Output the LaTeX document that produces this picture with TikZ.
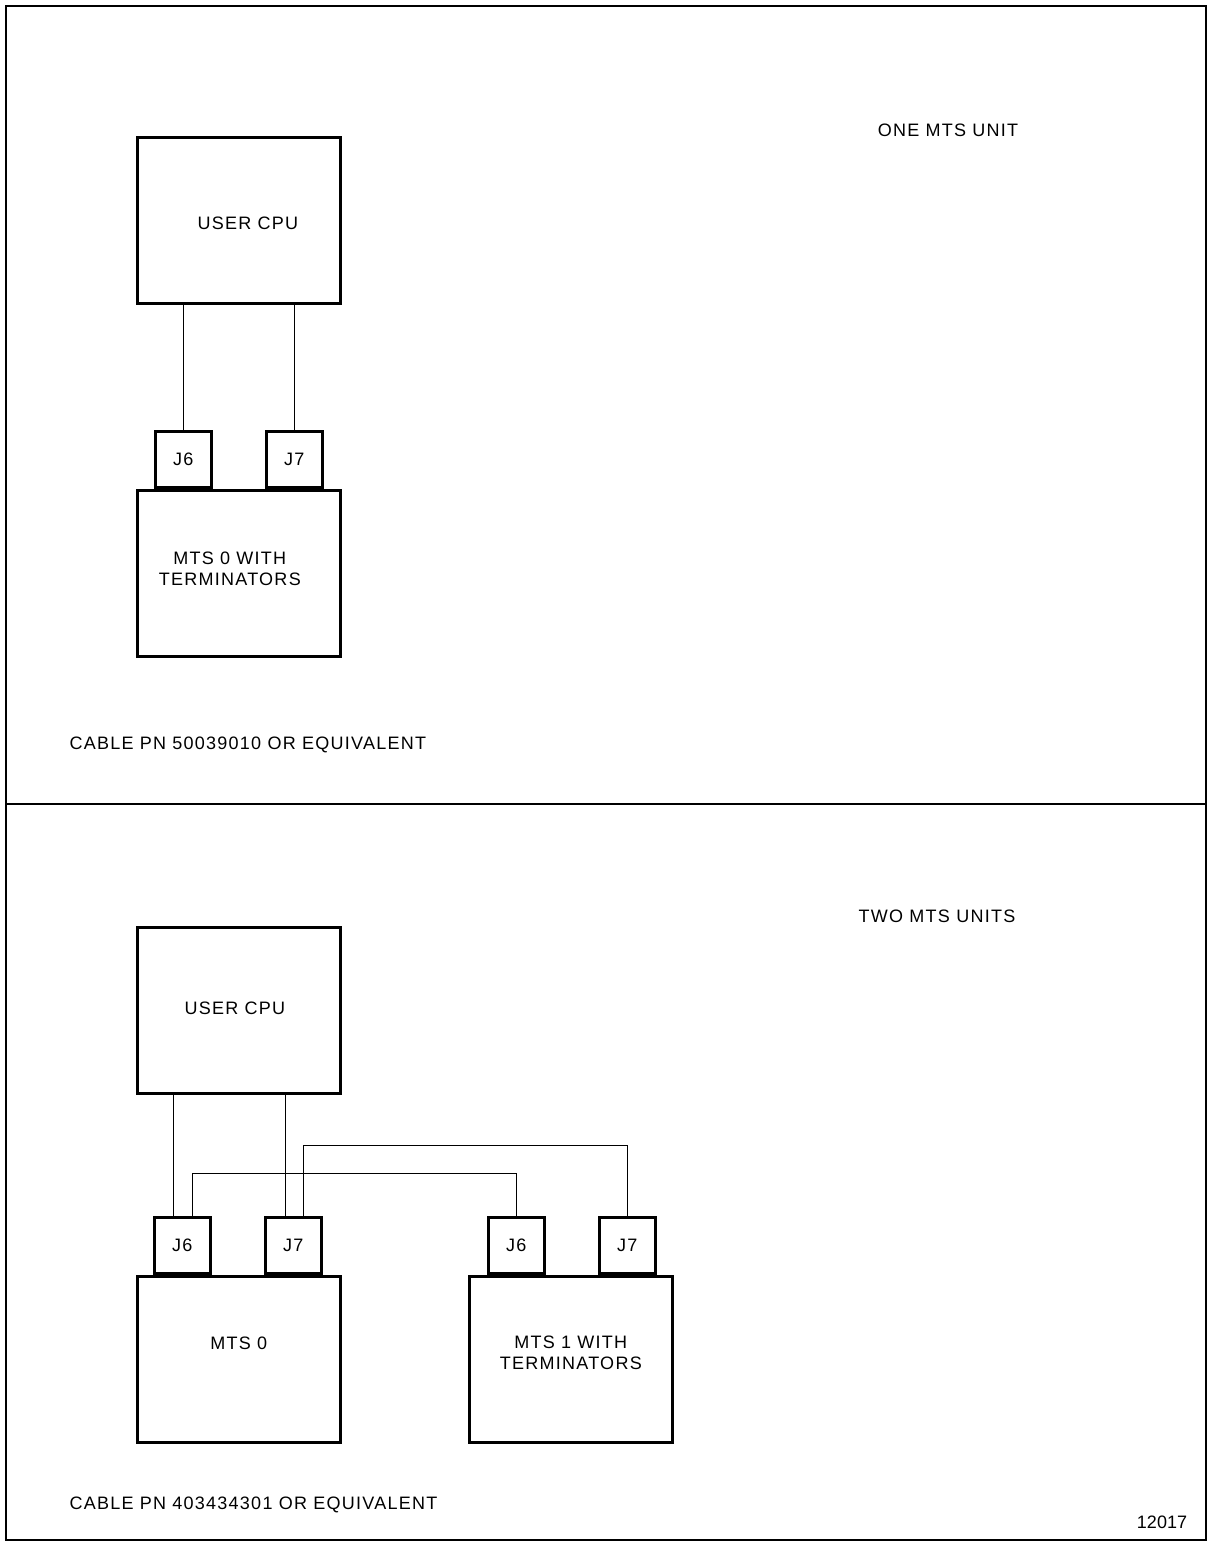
\documentclass[tikz,border=0pt]{standalone}
\usepackage{fontspec}
\setmainfont{Liberation Sans}[LetterSpace=7]
\usetikzlibrary{positioning, calc}
\tikzset{
  every picture/.style={font=\fontsize{18}{21}\selectfont, x=1pt, y=-1pt},
  unit/.style={draw, line width=2.6pt, minimum width=203pt, minimum height=166pt, inner sep=0pt},
  jack/.style={draw, line width=2.6pt, minimum width=56pt, minimum height=56pt, inner sep=0pt},
  lbl/.style={align=center, inner sep=0pt},
  cable/.style={line width=1.3pt},
  frame/.style={line width=2.8pt},
  title/.style={anchor=center},
  note/.style={anchor=west},
}
\begin{document}
\begin{tikzpicture}
  \useasboundingbox (0,0) rectangle (1209,1543);
  \draw[frame] (6,6) rectangle (1206,1540);
  \draw[frame] (6,804) -- (1206,804);

  % one unit
  \node[title] (tA) at (948,130) {ONE MTS UNIT};
  \node[unit, anchor=north west] (cpuA) at (136,136) {};
  \node[lbl] (cpuAtxt) at ($(cpuA.center)+(9,3)$) {USER CPU};
  \node[unit, anchor=north west] (mtsA) at (136,489) {};
  \node[lbl] (mtsAtxt) at ($(mtsA.center)+(-9,-5)$) {MTS 0 WITH\\TERMINATORS};
  \node[jack, anchor=south west] (j6A) at ($(mtsA.north west)+(18,0)$) {J6};
  \node[jack, anchor=south west] (j7A) at ($(mtsA.north west)+(129,0)$) {J7};
  \draw[cable] (j6A.north) -- (j6A.north |- cpuA.south);
  \draw[cable] (j7A.north) -- (j7A.north |- cpuA.south);
  \node[note] (cabA) at (66,745) {CABLE PN 50039010 OR EQUIVALENT};

  % two units
  \node[title] (tB) at (937,916) {TWO MTS UNITS};
  \node[unit, anchor=north west] (cpuB) at (136,926) {};
  \node[lbl] (cpuBtxt) at ($(cpuB.center)+(-4,-2)$) {USER CPU};
  \node[unit, anchor=north west] (mtsB) at (136,1275) {};
  \node[lbl] (mtsBtxt) at ($(mtsB.center)+(0,-16)$) {MTS 0};
  \node[unit, anchor=north west] (mtsC) at (468,1275) {};
  \node[lbl] (mtsCtxt) at ($(mtsC.center)+(0,-7)$) {MTS 1 WITH\\TERMINATORS};
  \node[jack, anchor=south west] (j6B) at ($(mtsB.north west)+(17,0)$) {J6};
  \node[jack, anchor=south west] (j7B) at ($(mtsB.north west)+(128,0)$) {J7};
  \node[jack, anchor=south west] (j6C) at ($(mtsC.north west)+(19,0)$) {J6};
  \node[jack, anchor=south west] (j7C) at ($(mtsC.north west)+(130,0)$) {J7};
  \draw[cable] ([xshift=-9pt]j6B.north) -- ([xshift=-9pt]j6B.north |- cpuB.south);
  \draw[cable] ([xshift=-8pt]j7B.north) -- ([xshift=-8pt]j7B.north |- cpuB.south);
  \draw[cable] ([xshift=10pt]j6B.north) -- ++(0,-43) -| (j6C.north);
  \draw[cable] ([xshift=10pt]j7B.north) -- ++(0,-71) -| (j7C.north);
  \node[note] (cabB) at (66,1505) {CABLE PN 403434301 OR EQUIVALENT};
  \node[title, font=\addfontfeatures{LetterSpace=0}\fontsize{18}{21}\selectfont] (fig) at (1162,1522) {12017};
\end{tikzpicture}
\end{document}
